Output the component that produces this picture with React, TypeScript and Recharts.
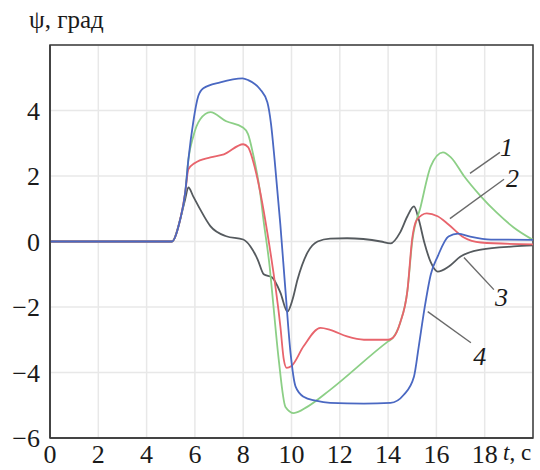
import {
  LineChart, Line, XAxis, YAxis, CartesianGrid, ReferenceArea, ReferenceLine, ReferenceDot,
} from "recharts";

// ψ(t) для четырёх вариантов, точки [t, ψ]
const curve1: [number, number][] = [
  [0, 0], [5.05, 0], [5.39, 0.67], [5.6, 1.5], [5.73, 2.5], [5.93, 3.2], [6.22, 3.73], [6.64, 3.95],
  [7.3, 3.67], [7.97, 3.49], [8.2, 3.28], [8.4, 2.7], [8.7, 1.5], [8.85, 0.6], [9.1, -0.8], [9.2, -1.56],
  [9.47, -3.6], [9.75, -5.05], [10.1, -5.24], [10.65, -5.05], [11.6, -4.53], [14.0, -3.05], [14.2, -2.94],
  [14.5, -2.48], [14.8, -1.5], [15.0, 0.0], [15.35, 1.07], [15.77, 2.3], [16.27, 2.72], [16.6, 2.57],
  [17.14, 2.0], [17.84, 1.38], [18.5, 0.88], [19.2, 0.43], [20, 0.05],
];
const curve2: [number, number][] = [
  [0, 0], [5.05, 0], [5.39, 0.67], [5.6, 1.5], [5.73, 2.2], [6.0, 2.4], [6.64, 2.57], [7.2, 2.66],
  [8.0, 2.97], [8.2, 2.88], [8.5, 2.2], [9.0, 0.27], [9.54, -2.6], [9.68, -3.6], [9.8, -3.86], [10.0, -3.8],
  [10.5, -3.2], [11.2, -2.64], [11.6, -2.7], [12.3, -2.9], [13.0, -3.0], [14.0, -3.0], [14.2, -2.94],
  [14.5, -2.48], [14.8, -1.5], [15.0, 0.1], [15.2, 0.67], [15.6, 0.86], [16.05, 0.77], [16.5, 0.52],
  [17.14, 0.12], [17.84, -0.03], [20, -0.09],
];
const curve3: [number, number][] = [
  [0, 0], [5.05, 0], [5.39, 0.67], [5.6, 1.3], [5.73, 1.65], [5.93, 1.38], [6.22, 0.98], [6.64, 0.47],
  [7.3, 0.16], [8.0, 0.06], [8.3, -0.15], [8.6, -0.55], [8.85, -1.0], [9.2, -1.1], [9.54, -1.56],
  [9.83, -2.14], [10.04, -1.78], [10.25, -1.16], [10.66, -0.34], [11.08, 0.0], [11.6, 0.09], [12.3, 0.1],
  [13.7, 0.0], [14.1, -0.06], [14.5, 0.28], [14.8, 0.77], [15.07, 1.07], [15.27, 0.67], [15.5, -0.03],
  [15.77, -0.64], [16.05, -0.92], [16.5, -0.77], [17.0, -0.46], [17.84, -0.25], [19.2, -0.15], [20, -0.12],
];
const curve4: [number, number][] = [
  [0, 0], [5.05, 0], [5.39, 0.67], [5.6, 1.5], [5.73, 2.5], [5.93, 3.64], [6.14, 4.44], [6.35, 4.68],
  [7.05, 4.86], [7.97, 4.98], [8.2, 4.93], [8.7, 4.65], [9.0, 4.25], [9.15, 3.6], [9.3, 2.5], [9.54, 0.5],
  [9.75, -1.5], [9.96, -3.4], [10.17, -4.43], [10.5, -4.74], [11.0, -4.86], [11.6, -4.93], [13.0, -4.95],
  [14.1, -4.93], [14.65, -4.68], [15.07, -4.13], [15.27, -3.2], [15.5, -2.08], [15.77, -1.0],
  [16.05, -0.46], [16.5, 0.15], [16.9, 0.24], [17.4, 0.15], [18.26, 0.06], [20, 0.05],
];

const xTicks = [0, 2, 4, 6, 8, 10, 12, 14, 16, 18];
const yTicks = [-6, -4, -2, 0, 2, 4];

// выноски с номерами кривых: [t1, ψ1, t2, ψ2], подпись
const callouts: { seg: [number, number, number, number]; text: string; at: [number, number] }[] = [
  { seg: [18.63, 2.72, 17.39, 2.08], text: "1", at: [18.9, 2.9] },
  { seg: [18.8, 1.9, 16.56, 0.7], text: "2", at: [19.15, 1.95] },
  { seg: [18.38, -1.47, 17.14, -0.49], text: "3", at: [18.7, -1.7] },
  { seg: [17.43, -3.09, 15.64, -2.14], text: "4", at: [17.8, -3.5] },
];

const toPts = (c: [number, number][]) => c.map(([t, v]) => ({ t, v }));
const fmt = (v: number) => (v < 0 ? "\u2212" + Math.abs(v) : String(v));
const serif = "Liberation Serif, Times New Roman, Tinos, DejaVu Serif, serif";
const tickStyle = { fontSize: 26, fill: "#1a1a1a", fontFamily: serif };

export default function App() {
  return (
    <div style={{ position: "absolute", left: 0, top: 0, width: 540, height: 470, background: "#fff" }}>
      <LineChart width={540} height={470} margin={{ top: 45, right: 7, bottom: 0, left: 0 }}>
        <CartesianGrid stroke="#e8e8e8" strokeWidth={1.5} />
        <XAxis
          type="number" dataKey="t" domain={[0, 20]} ticks={xTicks} height={32}
          tick={tickStyle} tickLine={false} tickSize={6} tickMargin={1}
          axisLine={{ stroke: "#3a3a3a", strokeWidth: 1.5 }} allowDataOverflow
        />
        <YAxis
          type="number" domain={[-6, 6]} ticks={yTicks} width={50} tickFormatter={fmt}
          tick={tickStyle} tickLine={false} tickSize={6} tickMargin={4}
          axisLine={{ stroke: "#3a3a3a", strokeWidth: 1.5 }} allowDataOverflow
        />
        <ReferenceArea x1={0} x2={20} y1={-6} y2={6} fill="none" stroke="#3a3a3a" strokeWidth={1.5} />
        <Line data={toPts(curve3)} dataKey="v" type="monotone" stroke="#555a5e" strokeWidth={1.8} dot={false} isAnimationActive={false} />
        <Line data={toPts(curve1)} dataKey="v" type="monotone" stroke="#8ccf86" strokeWidth={1.8} dot={false} isAnimationActive={false} />
        <Line data={toPts(curve2)} dataKey="v" type="monotone" stroke="#e8646c" strokeWidth={1.8} dot={false} isAnimationActive={false} />
        <Line data={toPts(curve4)} dataKey="v" type="monotone" stroke="#4a68c2" strokeWidth={1.8} dot={false} isAnimationActive={false} />
        {callouts.map((c) => (
          <ReferenceLine
            key={"l" + c.text}
            segment={[{ x: c.seg[0], y: c.seg[1] }, { x: c.seg[2], y: c.seg[3] }]}
            stroke="#6a6a6a" strokeWidth={1.4}
          />
        ))}
        {callouts.map((c) => (
          <ReferenceDot
            key={"d" + c.text} x={c.at[0]} y={c.at[1]} r={0} fill="none" stroke="none"
            label={{ value: c.text, position: "center", fontSize: 26, fontStyle: "italic", fontFamily: serif, fill: "#1a1a1a" }}
          />
        ))}
      </LineChart>
      <div style={{ position: "absolute", left: 29, top: 7, fontFamily: serif, fontSize: 25, lineHeight: 1, color: "#1a1a1a", whiteSpace: "nowrap" }}>
        ψ, град
      </div>
      <div style={{ position: "absolute", left: 503, top: 441, fontFamily: serif, fontSize: 23, lineHeight: 1, color: "#1a1a1a", whiteSpace: "nowrap" }}>
        <i>t</i>, с
      </div>
    </div>
  );
}
